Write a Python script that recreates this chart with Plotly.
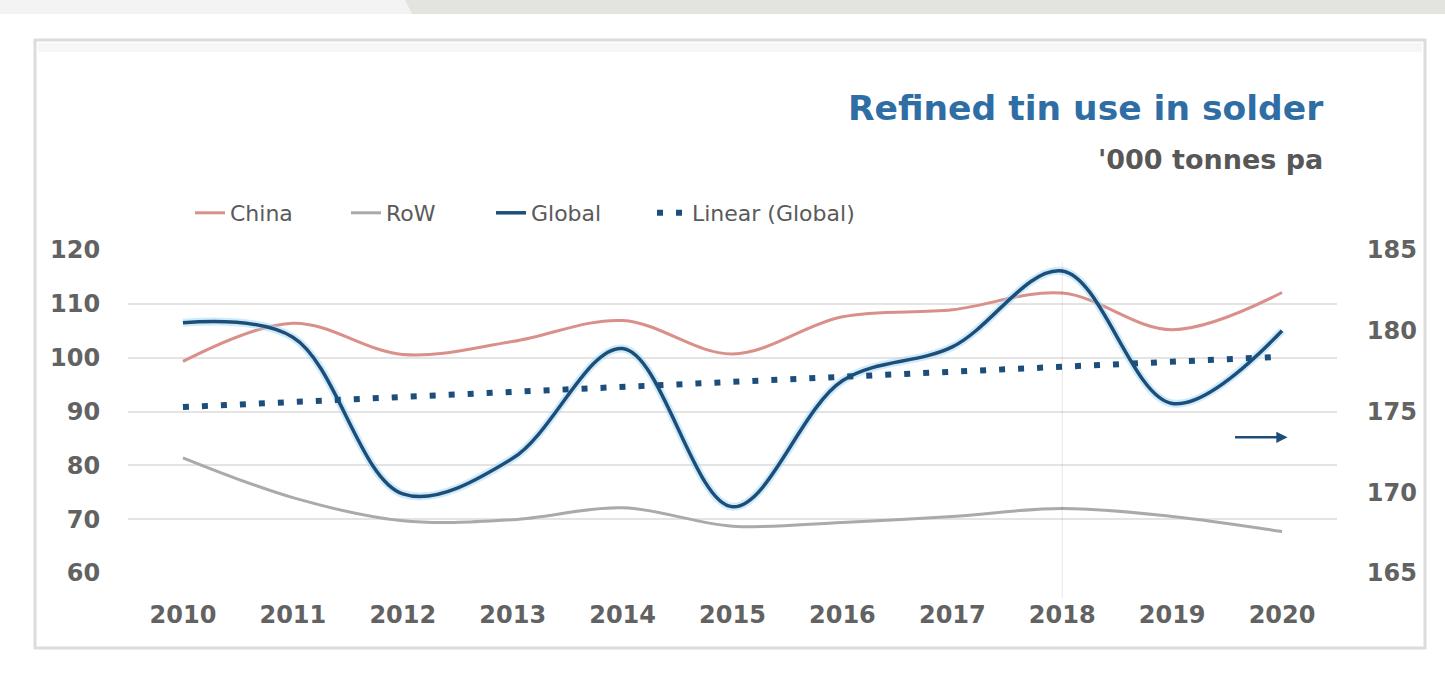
import numpy as np
import plotly.graph_objects as go

# Refined tin use in solder, '000 tonnes per annum
years = [2010, 2011, 2012, 2013, 2014, 2015, 2016, 2017, 2018, 2019, 2020]
china = [99.3, 106.4, 100.6, 103.0, 106.9, 100.7, 107.6, 108.9, 112.0, 105.2, 112.1]
row = [81.4, 74.0, 69.7, 69.9, 72.1, 68.7, 69.4, 70.5, 72.0, 70.5, 67.7]
global_use = [180.5, 179.6, 169.9, 172.1, 178.9, 169.1, 176.9, 179.0, 183.7, 175.5, 180.0]

left_ticks = [60, 70, 80, 90, 100, 110, 120]
right_ticks = [165, 170, 175, 180, 185]

# Linear trend of the global series
slope, intercept = np.polyfit(years, global_use, 1)
trend = [slope * y + intercept for y in years]

W, H = 1445, 683
ML, MR, MT, MB = 128, 108, 250, 110
PW, PH = W - ML - MR, H - MT - MB


def px(x):
    return (x - ML) / PW


def py(y):
    return (H - MB - y) / PH


FONT = "DejaVu Sans"
TICK_GREY = "#626262"
NAVY = "#1D4E7A"
LEGEND_FONT = dict(family=FONT, size=22, color="#5A5A5A")

fig = go.Figure()

fig.add_trace(go.Scatter(
    x=years, y=china, name="China", mode="lines", legend="legend",
    line=dict(color="#D9908A", width=3, shape="spline", smoothing=1),
))
fig.add_trace(go.Scatter(
    x=years, y=row, name="RoW", mode="lines", legend="legend2",
    line=dict(color="#AAAAAA", width=3, shape="spline", smoothing=1),
))
# soft halo under the global line
fig.add_trace(go.Scatter(
    x=years, y=global_use, yaxis="y2", mode="lines", showlegend=False,
    hoverinfo="skip",
    line=dict(color="rgba(160,215,245,0.5)", width=8, shape="spline", smoothing=1),
))
fig.add_trace(go.Scatter(
    x=years, y=global_use, name="Global", yaxis="y2", mode="lines", legend="legend3",
    line=dict(color=NAVY, width=3.5, shape="spline", smoothing=1),
))
fig.add_trace(go.Scatter(
    x=years, y=trend, name="Linear (Global)", yaxis="y2", mode="lines", legend="legend4",
    line=dict(color=NAVY, width=6, dash="6px,13px"),
))

shapes = [
    # top strip of the page
    dict(type="rect", xref="paper", yref="paper",
         x0=px(0), x1=px(W), y0=py(14), y1=py(0),
         fillcolor="#F3F3F3", line=dict(width=0), layer="below"),
    dict(type="path", xref="paper", yref="paper",
         path=f"M {px(405)},{py(0)} L {px(W)},{py(0)} L {px(W)},{py(14)} L {px(412)},{py(14)} Z",
         fillcolor="#E3E3E0", line=dict(width=0), layer="below"),
    # chart frame
    dict(type="rect", xref="paper", yref="paper",
         x0=px(35), x1=px(1425), y0=py(648), y1=py(40),
         fillcolor="rgba(0,0,0,0)", line=dict(color="#DCDCDC", width=3), layer="below"),
    dict(type="rect", xref="paper", yref="paper",
         x0=px(38), x1=px(1422), y0=py(52), y1=py(43),
         fillcolor="#F6F6F6", line=dict(width=0), layer="below"),
    # faint marker line at 2018
    dict(type="line", xref="x", yref="paper",
         x0=2018, x1=2018, y0=py(598), y1=py(262),
         line=dict(color="rgba(0,0,0,0.10)", width=1)),
]

annotations = [
    dict(text="<b>Refined tin use in solder</b>", xref="paper", yref="paper",
         x=px(1325), y=py(108), xanchor="right", yanchor="middle", showarrow=False,
         font=dict(family=FONT, size=34.5, color="#2F6EA5")),
    dict(text="<b>'000 tonnes pa</b>", xref="paper", yref="paper",
         x=px(1325), y=py(160), xanchor="right", yanchor="middle", showarrow=False,
         font=dict(family=FONT, size=27, color="#575757")),
    # arrow pointing to the right-hand axis for the global series
    dict(text="", x=2020.05, y=173.4, xref="x", yref="y2", ax=-54, ay=0,
         showarrow=True, arrowhead=2, arrowsize=0.9, arrowwidth=2.5, arrowcolor=NAVY),
]


def legend_at(text_left):
    return dict(
        orientation="h", x=px(text_left - 40), y=py(213),
        xanchor="left", yanchor="middle",
        font=LEGEND_FONT, bgcolor="rgba(0,0,0,0)",
    )


tick_font = dict(family=FONT, size=24, color=TICK_GREY, weight="bold")

fig.update_layout(
    width=W, height=H,
    margin=dict(l=ML, r=MR, t=MT, b=MB),
    paper_bgcolor="white", plot_bgcolor="white",
    font=dict(family=FONT, color=TICK_GREY),
    showlegend=True,
    legend=legend_at(230),
    legend2=legend_at(386),
    legend3=legend_at(531),
    legend4=legend_at(692),
    xaxis=dict(
        range=[2009.5, 2020.5], tickmode="array", tickvals=years,
        ticktext=[str(y) for y in years],
        showgrid=False, zeroline=False, showline=False,
        ticks="outside", ticklen=20, tickcolor="rgba(0,0,0,0)",
        tickfont=tick_font,
    ),
    yaxis=dict(
        range=[60, 120], tickmode="array", tickvals=left_ticks,
        showgrid=True, gridcolor="#E4E4E4", gridwidth=2,
        zeroline=False, showline=False,
        ticks="outside", ticklen=22, tickcolor="rgba(0,0,0,0)",
        tickfont=tick_font,
    ),
    yaxis2=dict(
        range=[165, 185], tickmode="array", tickvals=right_ticks,
        overlaying="y", side="right", showgrid=False,
        zeroline=False, showline=False,
        ticks="outside", ticklen=24, tickcolor="rgba(0,0,0,0)",
        tickfont=tick_font,
    ),
    shapes=shapes,
    annotations=annotations,
)

fig.write_html("out.html")
